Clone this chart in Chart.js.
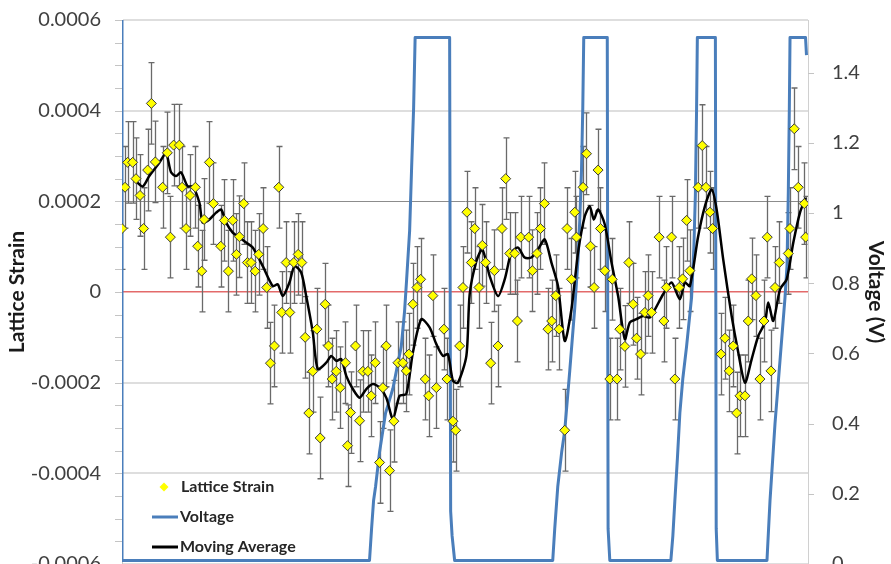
<!DOCTYPE html>
<html><head><meta charset="utf-8">
<script src="https://cdn.jsdelivr.net/npm/chart.js@4.4.1/dist/chart.umd.min.js"></script>
<style>html,body{margin:0;padding:0;background:#fff;overflow:hidden;width:891px;height:564px}canvas{display:block}</style>
</head><body>
<canvas id="c" width="891" height="600"></canvas>
<script>
// ---- Lattice strain measurements (x = elapsed time, % of record) ----
const strainX = [0,0.44,0.82,1.55,2.04,2.63,3.15,3.74,4.28,4.86,5.92,6.61,7.05,7.53,8.36,8.76,9.34,9.92,10.70,11.03,
11.62,11.97,12.74,13.32,14.39,14.93,15.51,16.14,16.68,17.12,17.74,18.28,18.82,19.41,19.93,20.57,21.10,21.64,22.22,22.85,
23.29,23.93,24.46,25.04,25.68,26.21,26.70,27.23,27.81,28.40,28.89,29.62,30.10,30.64,31.23,31.81,32.58,32.88,33.31,34.04,
34.63,35.11,35.84,36.33,36.92,37.55,38.03,38.52,39.00,39.63,40.22,40.95,41.44,41.82,42.41,42.99,43.53,44.21,44.70,45.32,
45.82,46.93,47.37,48.24,48.64,49.22,49.70,50.28,50.93,51.41,52.04,52.53,53.01,53.74,54.28,54.81,55.39,55.93,56.52,57.25,
57.64,58.12,59.29,59.83,60.50,61.00,61.58,62.10,62.64,63.23,63.71,64.54,64.88,65.52,66.00,66.25,67.21,67.71,68.29,68.82,
69.40,69.75,70.38,71.11,71.47,72.17,72.57,73.30,73.88,74.51,75.00,75.59,76.22,76.70,77.19,78.30,78.99,79.35,80.11,80.59,
81.22,81.72,82.30,82.78,83.99,84.58,85.12,85.70,86.09,87.31,87.89,88.52,89.10,89.60,90.08,90.81,91.29,91.79,92.41,92.99,
93.58,94.06,94.60,95.19,95.81,97.13,97.37,98.00,98.58,99.46,99.66];
const strainY = [1.40e-4,2.31e-4,2.86e-4,2.86e-4,2.50e-4,2.13e-4,1.40e-4,2.69e-4,4.16e-4,2.87e-4,2.31e-4,3.07e-4,1.21e-4,3.24e-4,3.24e-4,2.31e-4,1.40e-4,2.13e-4,2.31e-4,1.01e-4,
0.46e-4,1.60e-4,2.86e-4,1.95e-4,1.01e-4,1.58e-4,0.46e-4,1.58e-4,0.83e-4,1.22e-4,1.95e-4,0.65e-4,0.65e-4,0.46e-4,0.83e-4,1.40e-4,0.10e-4,-1.57e-4,-1.19e-4,2.31e-4,
-0.45e-4,0.65e-4,-0.45e-4,0.65e-4,0.83e-4,0.65e-4,-1.00e-4,-2.67e-4,-1.75e-4,-0.82e-4,-3.22e-4,-0.27e-4,-1.19e-4,-1.92e-4,-1.75e-4,-2.11e-4,-1.56e-4,-3.39e-4,-2.66e-4,-1.19e-4,
-2.84e-4,-1.75e-4,-1.75e-4,-2.29e-4,-1.56e-4,-3.76e-4,-2.11e-4,-1.19e-4,-3.94e-4,-2.85e-4,-1.56e-4,-1.56e-4,-1.74e-4,-1.37e-4,-0.27e-4,0.10e-4,0.28e-4,-1.92e-4,-2.29e-4,-0.08e-4,
-2.11e-4,-0.82e-4,-1.92e-4,-2.85e-4,-3.05e-4,-1.19e-4,0.10e-4,1.76e-4,0.65e-4,1.40e-4,0.10e-4,1.03e-4,0.65e-4,-1.57e-4,0.47e-4,-1.19e-4,1.40e-4,2.50e-4,0.85e-4,0.85e-4,
-0.64e-4,1.21e-4,1.21e-4,0.47e-4,0.85e-4,1.40e-4,1.95e-4,-0.82e-4,-0.64e-4,-0.08e-4,-0.82e-4,-3.05e-4,1.40e-4,0.28e-4,1.76e-4,1.21e-4,2.31e-4,3.05e-4,1.01e-4,0.10e-4,
2.69e-4,1.40e-4,0.47e-4,-1.92e-4,0.28e-4,-1.92e-4,-0.82e-4,-1.20e-4,0.65e-4,-0.27e-4,-1.02e-4,-1.37e-4,-0.45e-4,-0.08e-4,-0.45e-4,1.21e-4,-0.64e-4,0.10e-4,1.21e-4,-1.92e-4,
0.10e-4,0.29e-4,1.58e-4,0.47e-4,2.31e-4,3.23e-4,2.31e-4,1.76e-4,1.40e-4,-1.37e-4,-1.02e-4,-1.74e-4,-1.19e-4,-2.67e-4,-2.29e-4,-2.29e-4,-0.64e-4,0.29e-4,-0.08e-4,-1.92e-4,
-0.64e-4,1.21e-4,-1.74e-4,0.10e-4,0.65e-4,0.85e-4,1.40e-4,3.60e-4,2.31e-4,1.95e-4,1.21e-4];
const strainError = 0.00009; // half-width of the error bars

// ---- Moving average of the lattice strain ----
const avgX = [1.79,3.01,3.98,5.44,6.42,7.15,7.88,8.61,9.57,10.30,11.28,11.76,12.74,13.72,14.45,15.18,16.14,17.12,18.09,19.06,
20.52,21.98,22.71,23.44,24.41,25.14,26.12,26.85,27.81,28.54,29.77,30.50,31.23,31.96,32.69,33.65,34.63,35.61,36.57,37.55,
38.52,39.49,40.46,41.44,42.41,43.63,44.84,45.82,46.78,47.51,48.24,48.97,50.20,50.68,51.66,52.53,53.60,54.81,55.79,56.76,
57.73,58.70,59.68,60.64,61.62,62.60,63.56,64.54,65.52,66.48,67.46,68.19,68.77,69.40,70.38,71.36,72.32,73.30,74.03,75.00,
75.97,76.95,78.88,80.11,81.32,82.05,82.78,83.99,84.97,85.95,86.68,87.64,88.87,89.83,90.81,91.79,92.75,93.73,94.21,94.94,
95.92,96.89,97.86,98.83,99.66];
const avgY = [2.48e-4,2.33e-4,2.56e-4,2.85e-4,3.06e-4,2.64e-4,2.56e-4,2.64e-4,2.33e-4,2.33e-4,1.97e-4,1.53e-4,1.60e-4,1.75e-4,1.82e-4,1.53e-4,1.31e-4,1.20e-4,1.09e-4,0.98e-4,
0.57e-4,0.13e-4,0.17e-4,-0.09e-4,0.21e-4,0.57e-4,0.43e-4,-0.09e-4,-0.89e-4,-1.70e-4,-1.56e-4,-1.41e-4,-1.52e-4,-1.48e-4,-1.85e-4,-2.14e-4,-2.33e-4,-2.14e-4,-2.03e-4,-2.11e-4,
-2.33e-4,-2.80e-4,-2.29e-4,-2.25e-4,-1.33e-4,-0.60e-4,-0.78e-4,-1.15e-4,-1.41e-4,-1.37e-4,-1.96e-4,-2.00e-4,-1.41e-4,-0.05e-4,0.68e-4,0.94e-4,0.35e-4,-0.09e-4,0.28e-4,0.87e-4,
0.98e-4,0.76e-4,0.76e-4,0.94e-4,1.16e-4,0.65e-4,0.13e-4,-1.08e-4,-0.38e-4,0.87e-4,1.67e-4,1.89e-4,1.60e-4,1.82e-4,1.49e-4,0.65e-4,-0.09e-4,-1.04e-4,-0.67e-4,-0.60e-4,
-0.53e-4,-0.56e-4,-0.05e-4,0.21e-4,-0.16e-4,0.21e-4,0.13e-4,1.23e-4,1.89e-4,2.26e-4,1.82e-4,0.72e-4,-0.53e-4,-1.33e-4,-2.00e-4,-1.48e-4,-0.97e-4,-0.67e-4,-0.23e-4,-0.64e-4,
0.06e-4,0.28e-4,1.09e-4,1.75e-4,2.08e-4];

// ---- Cell voltage (V) ----
const voltX = [0,0,36.08,36.38,36.67,36.96,37.55,38.42,39.49,40.71,41.19,41.49,41.93,42.22,42.51,42.73,47.76,47.91,48.12,48.49,
62.79,63.08,63.52,64.10,64.54,65.27,66.00,66.48,66.73,66.98,67.17,67.31,70.74,70.86,71.11,
80.01,80.30,80.59,80.96,81.32,81.76,82.30,83.03,83.36,83.58,83.76,83.87,86.50,86.62,86.79,
94.02,94.46,95.19,95.92,96.65,96.94,97.13,97.28,97.38,99.64,99.78];
const voltY = [1.6,0.01,0.01,0.10,0.18,0.22,0.32,0.43,0.50,0.62,0.72,0.81,0.95,1.13,1.30,1.50,1.50,0.15,0.08,0.01,
0.01,0.10,0.22,0.32,0.38,0.55,0.73,0.87,0.98,1.12,1.30,1.50,1.50,0.10,0.01,
0.01,0.08,0.18,0.30,0.43,0.53,0.62,0.76,0.90,1.05,1.30,1.50,1.50,0.10,0.01,
0.01,0.18,0.40,0.58,0.76,0.85,1.06,1.30,1.50,1.50,1.45];

// ---- Axis tick labels ----
const strainTickLabels = ['-0.0006','-0.0004','-0.0002','0','0.0002','0.0004','0.0006'];
const voltTickLabels = ['0','0.2','0.4','0.6','0.8','1','1.2','1.4'];

const seriesNames = ['Lattice Strain','Voltage','Moving Average'];

// labelled ticks plus 3 unlabelled minor ticks between each pair on the strain axis
const strainMajor = strainTickLabels.map(Number);
const strainTicks = [];
strainMajor.forEach((v, i) => {
  strainTicks.push(v);
  if (i < strainMajor.length - 1) {
    const step = (strainMajor[i + 1] - v) / 4;
    for (let k = 1; k < 4; k++) strainTicks.push(v + step * k);
  }
});
const voltTicks = voltTickLabels.map(Number);

const toXY = (xs, ys) => xs.map((x, i) => ({x, y: ys[i]}));

// short outside tick marks on both value axes
const tickMarkPlugin = {
  id: 'tickMarks',
  afterDraw(chart) {
    const {ctx, chartArea: a} = chart;
    ctx.save();
    ctx.strokeStyle = '#c4c4c4';
    ctx.lineWidth = 1;
    ctx.beginPath();
    chart.scales.y.ticks.forEach(t => {
      const py = Math.round(chart.scales.y.getPixelForValue(t.value)) + 0.5;
      ctx.moveTo(a.left - 7, py); ctx.lineTo(a.left, py);
    });
    chart.scales.y1.ticks.forEach(t => {
      const py = Math.round(chart.scales.y1.getPixelForValue(t.value)) + 0.5;
      ctx.moveTo(a.right, py); ctx.lineTo(a.right + 6, py);
    });
    ctx.stroke();
    ctx.restore();
  }
};

const errorBarPlugin = {
  id: 'errorBars',
  beforeDatasetsDraw(chart) {
    const {ctx, chartArea: a} = chart;
    const xs = chart.scales.x, ys = chart.scales.y;
    ctx.save();
    ctx.beginPath();
    ctx.rect(a.left, a.top, a.right - a.left, a.bottom - a.top);
    ctx.clip();
    ctx.strokeStyle = '#6a6a6a';
    ctx.lineWidth = 1.3;
    strainX.forEach((xv, i) => {
      const px = Math.round(xs.getPixelForValue(xv)) + 0.5;
      const t = ys.getPixelForValue(strainY[i] + strainError);
      const b = ys.getPixelForValue(strainY[i] - strainError);
      ctx.beginPath();
      ctx.moveTo(px, t); ctx.lineTo(px, b);
      ctx.moveTo(px - 3, t); ctx.lineTo(px + 3, t);
      ctx.moveTo(px - 3, b); ctx.lineTo(px + 3, b);
      ctx.stroke();
    });
    ctx.restore();
  }
};

const legendPlugin = {
  id: 'insideLegend',
  afterDraw(chart) {
    const {ctx, chartArea: a} = chart;
    const ds = chart.data.datasets;
    const x0 = a.left + 30, x1 = a.left + 56, tx = a.left + 58;
    const rows = [a.bottom - 77, a.bottom - 47, a.bottom - 17];
    ctx.save();
    ctx.font = 'bold 16px Lato';
    ctx.textBaseline = 'middle';
    ctx.textAlign = 'left';
    const mx = a.left + 42, my = rows[0];
    ctx.beginPath();
    ctx.moveTo(mx, my - 4.5); ctx.lineTo(mx + 4.5, my); ctx.lineTo(mx, my + 4.5); ctx.lineTo(mx - 4.5, my); ctx.closePath();
    ctx.fillStyle = ds[0].backgroundColor; ctx.fill();
    ctx.fillStyle = '#262626';
    ctx.fillText(ds[0].label, tx + 1, my);
    [1, 2].forEach((k, j) => {
      const y = rows[j + 1];
      ctx.beginPath(); ctx.moveTo(x0, y); ctx.lineTo(x1, y);
      ctx.strokeStyle = ds[k].borderColor; ctx.lineWidth = 3; ctx.stroke();
      ctx.fillText(ds[k].label, tx, y);
    });
    ctx.restore();
  }
};

function build() {
  new Chart(document.getElementById('c'), {
    type: 'scatter',
    data: {
      datasets: [
        {
          label: seriesNames[0], data: toXY(strainX, strainY), yAxisID: 'y',
          pointStyle: 'rectRot', pointRadius: 5, pointHoverRadius: 5,
          backgroundColor: '#ffff00', borderColor: '#3a3a3a', borderWidth: 1, order: 1
        },
        {
          label: seriesNames[1], data: toXY(voltX, voltY), yAxisID: 'y1', showLine: true,
          borderColor: '#4a7ebb', borderWidth: 3, pointRadius: 0, tension: 0, borderJoinStyle: 'round', order: 3
        },
        {
          label: seriesNames[2], data: toXY(avgX, avgY), yAxisID: 'y', showLine: true,
          borderColor: '#000000', borderWidth: 2.5, pointRadius: 0, tension: 0.25, order: 2
        }
      ]
    },
    options: {
      responsive: false, animation: false, events: [],
      layout: {padding: {top: 20, left: 0, right: 0, bottom: 36}},
      plugins: {legend: {display: false}, tooltip: {enabled: false}},
      scales: {
        x: {type: 'linear', min: 0, max: 100, display: false},
        y: {
          position: 'left', min: -0.0006, max: 0.0006,
          afterBuildTicks: s => { s.ticks = strainTicks.map(v => ({value: v})); },
          afterFit: s => { s.width = 122; },
          ticks: {
            autoSkip: false, padding: 3, color: '#404040',
            font: {family: 'Lato', size: 20},
            callback: (v, i) => (i % 4 === 0 ? strainTickLabels[i / 4] : '')
          },
          grid: {
            color: c => {
              if (c.index % 4 !== 0) return 'rgba(0,0,0,0)';
              const m = c.index / 4;
              if (m === 3) return '#e36a6a';
              if (m === 4) return '#8c8c8c';
              return '#dedede';
            },
            lineWidth: c => (c.index % 4 !== 0 ? 0 : (c.index / 4 === 4 ? 1 : (c.index / 4 === 3 ? 1.5 : 2))),
            tickColor: 'rgba(0,0,0,0)', tickWidth: 1, tickLength: 18
          },
          border: {display: true, color: '#c4c4c4'},
          title: {display: true, text: 'Lattice Strain', color: '#1a1a1a',
                  font: {family: 'Lato', size: 21, weight: 'bold'}, padding: {top: 5, bottom: 0}}
        },
        y1: {
          position: 'right', min: 0, max: 1.55,
          afterBuildTicks: s => { s.ticks = voltTicks.map(v => ({value: v})); },
          afterFit: s => { s.width = 83; },
          ticks: {
            autoSkip: false, padding: 2, color: '#404040',
            font: {family: 'Lato', size: 20},
            callback: (v, i) => voltTickLabels[i]
          },
          grid: {drawOnChartArea: false, tickColor: 'rgba(0,0,0,0)', tickWidth: 1, tickLength: 22},
          border: {display: true, color: '#d0d0d0'},
          title: {display: true, text: 'Voltage (V)', color: '#1a1a1a',
                  font: {family: 'Lato', size: 21, weight: 'bold'}, padding: {top: 3, bottom: 0}}
        }
      }
    },
    plugins: [errorBarPlugin, tickMarkPlugin, legendPlugin]
  });
}
if (document.fonts && document.fonts.load) {
  Promise.all([document.fonts.load('20px Lato'), document.fonts.load('bold 20px Lato')]).then(build, build);
} else { build(); }
</script>
</body></html>
